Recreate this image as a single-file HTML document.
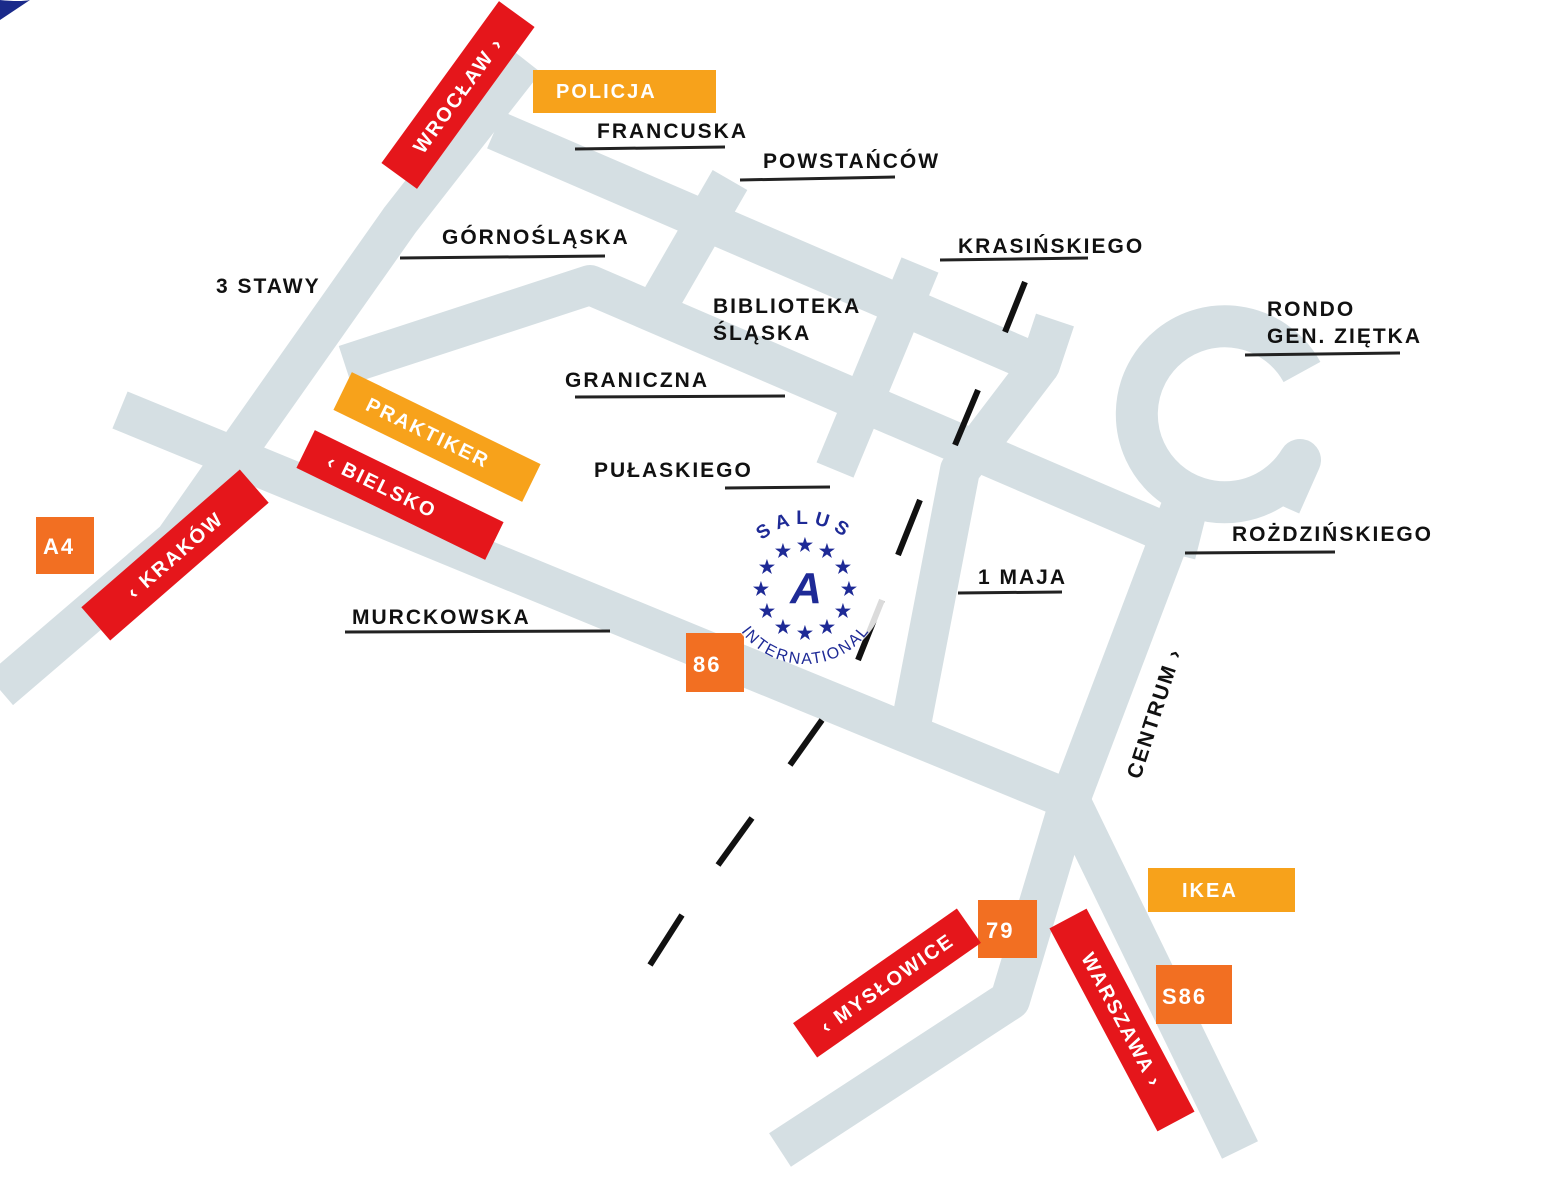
<!DOCTYPE html>
<html><head><meta charset="utf-8"><style>
html,body{margin:0;padding:0;background:#fff}
svg{display:block}
text{font-family:"Liberation Sans",sans-serif;font-weight:bold}
.lb{font-size:21px;letter-spacing:2px;fill:#111}
.sg{font-size:20px;letter-spacing:2px;fill:#fff}
</style></head><body>
<svg width="1548" height="1200" viewBox="0 0 1548 1200" xmlns="http://www.w3.org/2000/svg">
<path d="M0 0 Q20 2 30 0 L0 20 Z" fill="#1a2a8a"/>
<g fill="none" stroke="#d5dfe3" stroke-width="40" stroke-linecap="butt" stroke-linejoin="round">
<path d="M525 60 L400 220 L245 440 L175 540 L0 690"/>
<path d="M495 130 L1040 365 L1055 320"/>
<path d="M1040 365 L960 470 L910 730"/>
<path d="M730 180 L655 310"/>
<path d="M920 265 L835 470"/>
<path d="M345 365 L590 285 L1160 530 L1200 540"/>
<path d="M120 410 L1070 800 L1240 1150"/>
<path d="M1070 800 L1010 1000 L780 1150"/>
<path d="M1070 800 L1180 510"/>
<path d="M1302 372 A88 88 0 1 0 1300 460 L1280 505" stroke-width="42"/>
</g>
<g stroke="#111" stroke-width="6">
<line x1="1025" y1="282" x2="1005" y2="332"/>
<line x1="978" y1="390" x2="955" y2="445"/>
<line x1="920" y1="500" x2="898" y2="555"/>
<line x1="882" y1="600" x2="858" y2="660"/>
<line x1="822" y1="720" x2="790" y2="765"/>
<line x1="752" y1="818" x2="718" y2="865"/>
<line x1="682" y1="915" x2="650" y2="965"/>
</g>
<g stroke="#222" stroke-width="3">
<line x1="575" y1="149" x2="725" y2="147"/>
<line x1="740" y1="180" x2="895" y2="177"/>
<line x1="400" y1="258" x2="605" y2="256"/>
<line x1="940" y1="260" x2="1088" y2="258"/>
<line x1="1245" y1="355" x2="1400" y2="353"/>
<line x1="575" y1="397" x2="785" y2="396"/>
<line x1="725" y1="488" x2="830" y2="487"/>
<line x1="1185" y1="553" x2="1335" y2="552"/>
<line x1="958" y1="593" x2="1062" y2="592"/>
<line x1="345" y1="632" x2="610" y2="631"/>
</g>
<g class="lb">
<text x="597" y="138">FRANCUSKA</text>
<text x="763" y="168">POWSTAŃCÓW</text>
<text x="442" y="244">GÓRNOŚLĄSKA</text>
<text x="958" y="253">KRASIŃSKIEGO</text>
<text x="216" y="293">3 STAWY</text>
<text x="713" y="313">BIBLIOTEKA</text>
<text x="713" y="340">ŚLĄSKA</text>
<text x="1267" y="316">RONDO</text>
<text x="1267" y="343">GEN. ZIĘTKA</text>
<text x="565" y="387">GRANICZNA</text>
<text x="594" y="477">PUŁASKIEGO</text>
<text x="1232" y="541">ROŻDZIŃSKIEGO</text>
<text x="978" y="584">1 MAJA</text>
<text x="352" y="624">MURCKOWSKA</text>
<text transform="translate(1140,780) rotate(-72)">CENTRUM ›</text>
</g>
<rect x="533" y="70" width="183" height="43" fill="#f7a21b"/>
<text class="sg" x="556" y="98">POLICJA</text>
<rect x="1148" y="868" width="147" height="44" fill="#f7a21b"/>
<text class="sg" x="1182" y="897">IKEA</text>
<g fill="#f26f22">
<rect x="36" y="517" width="58" height="57"/>
<rect x="686" y="633" width="58" height="59"/>
<rect x="978" y="900" width="59" height="58"/>
<rect x="1156" y="965" width="76" height="59"/>
</g>
<g class="sg" style="font-size:22px">
<text x="43" y="554">A4</text>
<text x="693" y="672">86</text>
<text x="986" y="938">79</text>
<text x="1162" y="1004">S86</text>
</g>
<g transform="translate(458,95) rotate(-54)"><rect x="-100" y="-22" width="200" height="44" fill="#e5161b"/><text class="sg" x="0" y="7" text-anchor="middle">WROCŁAW ›</text></g>
<g transform="translate(175,555) rotate(-41)"><rect x="-105" y="-22" width="210" height="44" fill="#e5161b"/><text class="sg" x="0" y="7" text-anchor="middle">‹ KRAKÓW</text></g>
<g transform="translate(437,437) rotate(26)"><rect x="-105" y="-21" width="210" height="42" fill="#f7a21b"/><text class="sg" x="-10" y="7" text-anchor="middle">PRAKTIKER</text></g>
<g transform="translate(400,495) rotate(26)"><rect x="-105" y="-21" width="210" height="42" fill="#e5161b"/><text class="sg" x="-20" y="7" text-anchor="middle">‹ BIELSKO</text></g>
<g transform="translate(887,983) rotate(-35)"><rect x="-100" y="-21" width="200" height="42" fill="#e5161b"/><text class="sg" x="0" y="7" text-anchor="middle">‹ MYSŁOWICE</text></g>
<g transform="translate(1122,1020) rotate(62)"><rect x="-115" y="-21" width="230" height="42" fill="#e5161b"/><text class="sg" x="0" y="7" text-anchor="middle">WARSZAWA ›</text></g>
<defs>
<path id="top" d="M741 588 A64 64 0 0 1 869 588"/>
<path id="bot" d="M738 585 A67 67 0 0 0 872 585"/>
</defs>
<circle cx="805" cy="582" r="82" fill="#fff" opacity="0.85"/>
<g fill="#1e2a96">
<text style="font-size:19px;letter-spacing:6px" text-anchor="middle"><textPath href="#top" startOffset="50%">SALUS</textPath></text>
<text style="font-size:16px;font-weight:normal;letter-spacing:0px" text-anchor="middle" dy="12"><textPath href="#bot" startOffset="50%">INTERNATIONAL</textPath></text>
<g style="font-size:18px" text-anchor="middle">
<text x="805" y="551">★</text><text x="827" y="557">★</text><text x="843" y="573">★</text>
<text x="849" y="595">★</text><text x="843" y="617">★</text><text x="827" y="633">★</text>
<text x="805" y="639">★</text><text x="783" y="633">★</text><text x="767" y="617">★</text>
<text x="761" y="595">★</text><text x="767" y="573">★</text><text x="783" y="557">★</text>
</g>
<text x="806" y="603" text-anchor="middle" style="font-size:44px;font-style:italic">A</text>
</g>
</svg>
</body></html>
